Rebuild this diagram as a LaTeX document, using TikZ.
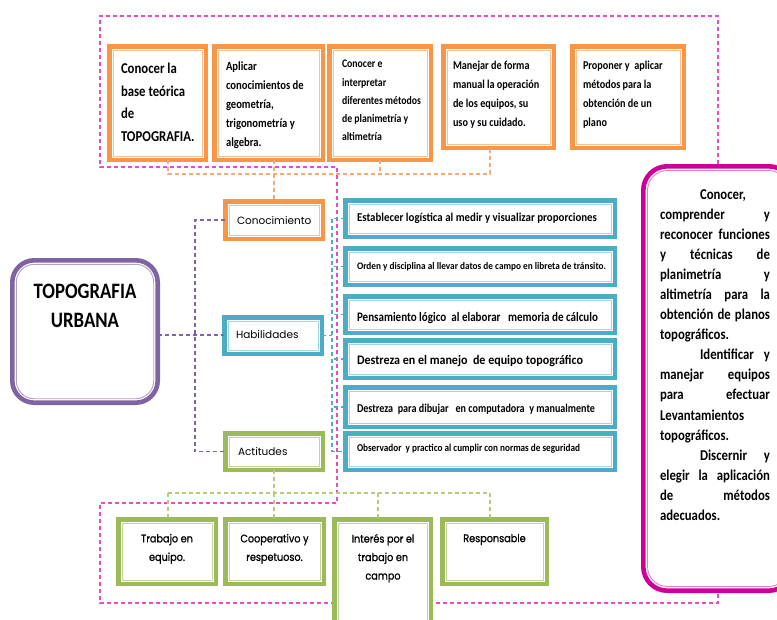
\documentclass[tikz,border=0pt]{standalone}
\usepackage{fontspec}
\usepackage{graphicx}
\setmainfont[FakeStretch=0.85]{Carlito}
\newfontfamily\gothic{Poppins}
\newfontfamily\gothicn[FakeStretch=0.88,FakeBold=1]{Poppins}
\definecolor{ora}{HTML}{F79646}
\definecolor{oral}{HTML}{FAC090}
\definecolor{orad}{HTML}{F9AA72}
\definecolor{cya}{HTML}{4BACC6}
\definecolor{cyal}{HTML}{A5D5E2}
\definecolor{gre}{HTML}{9BBB59}
\definecolor{grel}{HTML}{C3D69B}
\definecolor{gred}{HTML}{B2CC7A}
\definecolor{pur}{HTML}{8064A2}
\definecolor{purl}{HTML}{B3A2C7}
\definecolor{mag}{HTML}{CC0099}
\definecolor{magl}{HTML}{E580CC}
\definecolor{pinkd}{HTML}{E64DBF}
\newcommand\mkbox[6]{%
  \node[frm=#6, minimum width={#4-#2-4.4}, minimum height={#5-#3-4.4}] (#1) at ({(#2+#4)/2},{(#3+#5)/2}) {};
  \draw[#6l, line width=0.9pt] ([xshift=3.8pt,yshift=-3.8pt]#1.north west) rectangle ([xshift=-3.8pt,yshift=3.8pt]#1.south east);}
\newcommand\sk[3]{\resizebox{#1pt}{\height}{\fontsize{#2}{#2}\selectfont #3}}
\begin{document}
\begin{tikzpicture}[x=1pt,y=-1pt,
  frm/.style={draw=#1, line width=4.6pt, fill=white, inner sep=0pt, outer sep=0pt},
  dl/.style={dash pattern=on 4pt off 3pt, line width=1.2pt},
  tx/.style={inner sep=0pt, outer sep=0pt, anchor=north west, align=left},
  lbl/.style={inner sep=0pt, outer sep=0pt, anchor=base west, font=\gothic\fontsize{10.5}{12}\selectfont},
  gtx/.style={inner sep=0pt, outer sep=0pt, anchor=north, align=center, font=\gothicn\fontsize{11}{18.5}\selectfont},
  stx/.style={inner sep=0pt, outer sep=0pt, anchor=west, font=\bfseries},
]
\useasboundingbox[fill=white] (0,0) rectangle (777,619);

% coordinates for connector routing
\coordinate (o1) at (168,174);
\coordinate (o4) at (490,174);
\coordinate (pv) at (195,0);
\coordinate (cv) at (332,0);
\coordinate (gx1) at (168,493);
\coordinate (gx3) at (378,493);
\coordinate (gx4) at (490,493);

% ---- pink dashed frame (drawn first, boxes cover it)
\node[inner sep=0pt, outer sep=0pt, minimum width=154pt, minimum height=429pt] (mgref) at (718,378.5) {};
\draw[pinkd, dl] (mgref.north) -- (mgref.north |- 0,16) -- (100,16) -- (100,167) -- (337,167) -- (337,503)
  -- (100,503) -- (100,603) -- (mgref.south |- 0,603) -- (mgref.south);

% ---- boxes
\mkbox{t1}{107}{44}{208}{162}{ora}
\mkbox{t2}{212}{44}{325}{162}{ora}
\mkbox{t3}{327}{44}{433}{162}{ora}
\mkbox{t4}{441}{44}{556}{150}{ora}
\mkbox{t5}{570}{44}{686}{150}{ora}

\mkbox{con}{223}{199}{325}{241}{ora}
\mkbox{hab}{222}{315}{324}{356}{cya}
\mkbox{act}{223}{431}{325}{472}{gre}

\mkbox{s1}{343}{198}{617}{239}{cya}
\mkbox{s2}{343}{246}{617}{287}{cya}
\mkbox{s3}{343}{294}{617}{335}{cya}
\mkbox{s4}{343}{338}{617}{380}{cya}
\mkbox{s5}{343}{385}{617}{429}{cya}
\mkbox{s6}{343}{431}{617}{472}{cya}

% ---- connectors
\draw[orad, dl] (o1 |- t1.south) -- (o1) -- (o4) -- (o4 |- t4.south);
\draw[orad, dl] (t2.south -| con.north) -- (con.north);
\draw[orad, dl] (t3.south) -- (t3.south |- o1);

\node[frm=pur, rounded corners=22pt, minimum width=145.4pt, minimum height=142.4pt] (topo) at (85,331.5) {};
\draw[purl, line width=0.9pt, rounded corners=18pt] ([xshift=4pt,yshift=-4pt]topo.north west) rectangle ([xshift=-4pt,yshift=4pt]topo.south east);

\draw[pur, dl] (topo.east |- 0,335) -- (hab.west |- 0,335);
\draw[pur, dl] (con.west) -| (pv |- act.west) -- (act.west);

\draw[cya, dl] (hab.east) -- (hab.east -| cv);
\draw[cya, dl] (s1.west) -| (cv |- s6.west) -- (s6.west);
\draw[cya, dl] (s2.west) -- (s2.west -| cv);
\draw[cya, dl] (s3.west) -- (s3.west -| cv);
\draw[cya, dl] (s4.west) -- (s4.west -| cv);
\draw[cya, dl] (s5.west) -- (s5.west -| cv);

\draw[gred, dl] (act.south) -- (act.south |- gx1);
\draw[gred, dl] (gx1) -- (gx4);

\mkbox{g1}{116}{517}{218}{586}{gre}
\mkbox{g2}{223}{517}{326}{586}{gre}
\mkbox{g3}{332}{517}{433}{640}{gre}
\mkbox{g4}{440}{517}{549}{586}{gre}
\draw[gred, dl] (gx1) -- (gx1 |- g1.north);
\draw[gred, dl] (act.south |- gx1) -- (act.south |- g2.north);
\draw[gred, dl] (gx3) -- (gx3 |- g3.north);
\draw[gred, dl] (gx4) -- (gx4 |- g4.north);

% magenta box
\node[draw=mag, line width=4.6pt, fill=white, rounded corners=24pt, inner sep=0pt, outer sep=0pt,
      minimum width=149.4pt, minimum height=424.4pt] (mg) at (718,378.5) {};
\draw[magl, line width=0.9pt, rounded corners=20pt] ([xshift=4.2pt,yshift=-4.2pt]mg.north west) rectangle ([xshift=-4.2pt,yshift=4.2pt]mg.south east);

% ---- texts
\node[tx, font=\bfseries\fontsize{15}{22.5}\selectfont] (t1x) at (121,63) {Conocer la\\base teórica\\de\\TOPOGRAFIA.};
\node[tx, font=\bfseries\fontsize{12.5}{19}\selectfont] (t2x) at (226,61.5) {Aplicar\\conocimientos de\\geometría,\\trigonometría y\\algebra.};
\node[tx, font=\bfseries\fontsize{11.5}{18.2}\selectfont] (t3x) at (342,60.4) {Conocer e\\interpretar\\diferentes métodos\\de planimetría y\\altimetría};
\node[tx, font=\bfseries\fontsize{12}{19}\selectfont] (t4x) at (453,61) {Manejar de forma\\manual la operación\\de los equipos, su\\uso y su cuidado.};
\node[tx, font=\bfseries\fontsize{12}{19}\selectfont] (t5x) at (583,61) {Proponer y\ \ aplicar\\métodos para la\\obtención de un\\plano};

\node[lbl] (conx) at (237,224) {Conocimiento};
\node[lbl] (habx) at (236,338) {Habilidades};
\node[lbl] (actx) at (238,455) {Actitudes};

\node[inner sep=0pt, anchor=north, align=center, font=\bfseries\fontsize{22}{29.4}\selectfont] (topox) at (85,283.4) {TOPOGRAFIA\\URBANA};

\node[stx] (s1x) at (357,218) {\sk{240}{12}{Establecer logística al medir y visualizar proporciones}};
\node[stx] (s2x) at (357,267) {\sk{249}{10}{Orden y disciplina al llevar datos de campo en libreta de tránsito.}};
\node[stx] (s3x) at (357,318) {\sk{241}{13}{Pensamiento lógico\ \ al elaborar\ \ \ memoria de cálculo}};
\node[stx] (s4x) at (357,361) {\sk{226}{13}{Destreza en el manejo\ \ de equipo topográfico}};
\node[stx] (s5x) at (357,409) {\sk{238}{12}{Destreza\ \ para dibujar\ \ \ en computadora\ \ y manualmente}};
\node[stx] (s6x) at (357,449) {\sk{223}{10.5}{Observador\ \ y practico al cumplir con normas de seguridad}};

\node[gtx] (g1x) at (167,534) {Trabajo en\\equipo.};
\node[gtx] (g2x) at (274.5,534) {Cooperativo y\\respetuoso.};
\node[gtx] (g3x) at (383,534) {Interés por el\\trabajo en\\campo};
\node[gtx] (g4x) at (494.5,534) {Responsable};

\node[tx, font=\bfseries\fontsize{15}{20.06}\selectfont] (mgx) at (660,189.5) {%
\hspace*{40pt}Conocer,\\
\makebox[110pt][s]{comprender y}\\
\makebox[110pt][s]{reconocer funciones}\\
\makebox[110pt][s]{y técnicas de}\\
\makebox[110pt][s]{planimetría y}\\
\makebox[110pt][s]{altimetría para la}\\
\makebox[110pt][s]{obtención de planos}\\
topográficos.\\
\hspace*{40pt}\makebox[70pt][s]{Identificar y}\\
\makebox[110pt][s]{manejar equipos}\\
\makebox[110pt][s]{para efectuar}\\
Levantamientos\\
topográficos.\\
\hspace*{40pt}\makebox[70pt][s]{Discernir y}\\
\makebox[110pt][s]{elegir la aplicación}\\
\makebox[110pt][s]{de métodos}\\
adecuados.};
\end{tikzpicture}
\end{document}
